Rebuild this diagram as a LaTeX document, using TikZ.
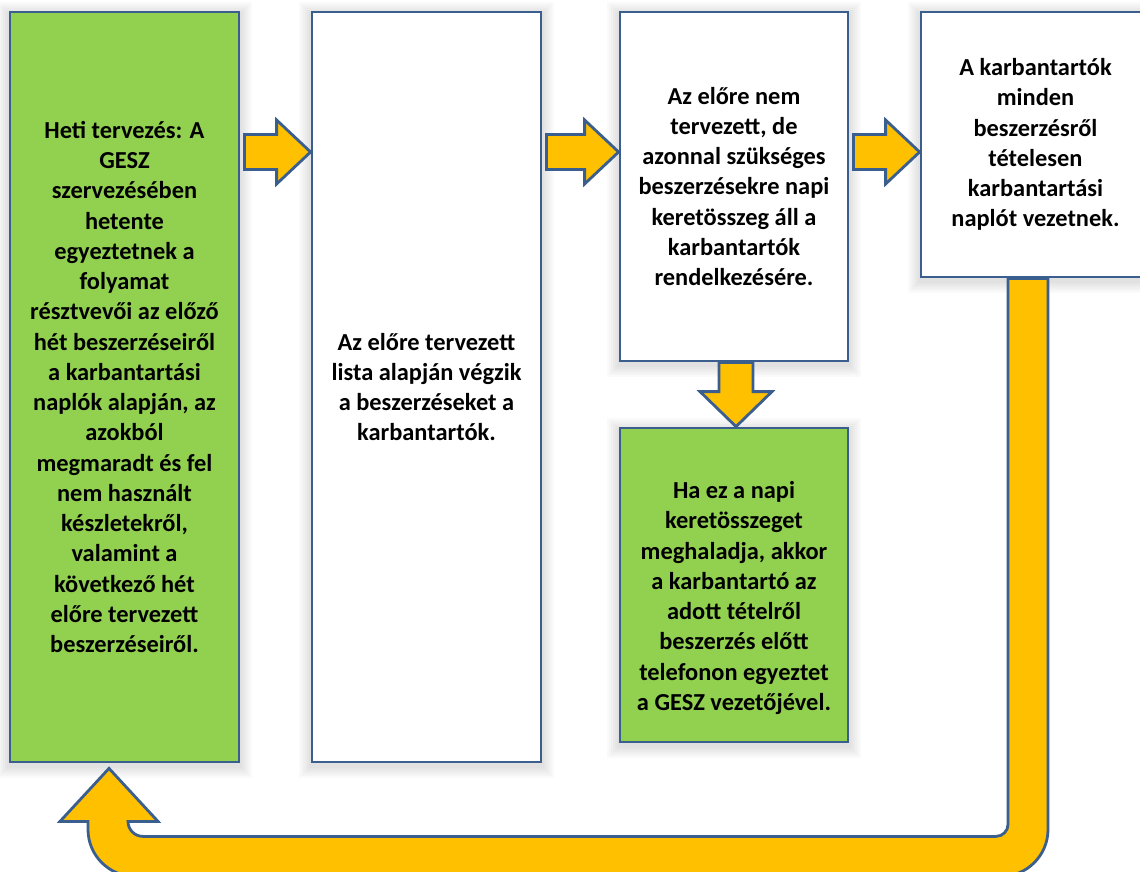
\documentclass[tikz,border=0pt]{standalone}
\usepackage{fontspec}
\setmainfont{Carlito}
\usetikzlibrary{calc,backgrounds}
\definecolor{boxgreen}{HTML}{92D050}
\definecolor{arroworange}{HTML}{FFC000}
\definecolor{edgeblue}{HTML}{3A5F8F}
\tikzset{
  txt/.style={align=center, inner sep=0pt, text=black, font=\fontsize{24.4}{30.25}\selectfont\bfseries},
  box/.style={txt, draw=edgeblue, line width=2.8pt, rectangle},
  greenbox/.style={box, fill=boxgreen},
  whitebox/.style={box, fill=white},
  blockarrow/.style={draw=edgeblue, line width=2.8pt, fill=arroworange, line join=miter},
}
\newcommand{\hblockarrow}[2]{%
  \draw[blockarrow] ($(#1)+(4,-17.5)$) -- ($(#2)+(-34,-17.5)$) -- ($(#2)+(-34,-32)$) -- (#2)
    -- ($(#2)+(-34,32)$) -- ($(#2)+(-34,17.5)$) -- ($(#1)+(4,17.5)$) -- cycle;}
\begin{document}
\begin{tikzpicture}[x=1pt,y=-1pt]
\useasboundingbox (0,0) rectangle (1140,872);
\clip (0,0) rectangle (1140,872);

\node[greenbox, minimum width=229pt, minimum height=750pt] (b1) at (124.5,387)
  {Heti tervezés: A\\GESZ\\szervezésében\\hetente\\egyeztetnek a\\folyamat\\résztvevői az előző\\hét beszerzéseiről\\a karbantartási\\naplók alapján, az\\azokból\\megmaradt és fel\\nem használt\\készletekről,\\valamint a\\következő hét\\előre tervezett\\beszerzéseiről.};
\node[whitebox, minimum width=229pt, minimum height=750pt] (b2) at (426.5,387)
  {Az előre tervezett\\lista alapján végzik\\a beszerzéseket a\\karbantartók.};
\node[whitebox, minimum width=228pt, minimum height=349pt] (b3) at (734,186.5)
  {Az előre nem\\tervezett, de\\azonnal szükséges\\beszerzésekre napi\\keretösszeg áll a\\karbantartók\\rendelkezésére.};
\node[whitebox, minimum width=229pt, minimum height=265pt] (b4) at (1035.5,144.5)
  {A karbantartók\\minden\\beszerzésről\\tételesen\\karbantartási\\naplót vezetnek.};
\node[greenbox, minimum width=228pt, minimum height=314pt] (b5) at (734,585) {};
\node[txt] (t5) at (734,598)
  {Ha ez a napi\\keretösszeget\\meghaladja, akkor\\a karbantartó az\\adott tételről\\beszerzés előtt\\telefonon egyeztet\\a GESZ vezetőjével.};

\begin{pgfonlayer}{background}
  \foreach \n in {b1,b2,b3,b4,b5}{
    \foreach \d in {2,4,6,8,10,12}{
      \fill[black, opacity=0.018] ($(\n.north west)+(-\d,-\d+3)$) rectangle ($(\n.south east)+(\d,\d+3)$);
    }
  }
\end{pgfonlayer}

% horizontal block arrows
\coordinate (a1s) at (b1.east |- 0,152);
\coordinate (a1e) at (b2.west |- 0,152);
\coordinate (a2s) at (b2.east |- 0,152);
\coordinate (a2e) at (b3.west |- 0,152);
\coordinate (a3s) at (b3.east |- 0,152);
\coordinate (a3e) at (b4.west |- 0,152);
\hblockarrow{a1s}{a1e}
\hblockarrow{a2s}{a2e}
\hblockarrow{a3s}{a3e}

% down block arrow
\coordinate (ds) at ($(b3.south)+(2,0)$);
\coordinate (de) at ($(b5.north)+(2,0)$);
\draw[blockarrow] ($(ds)+(-17,0)$) -- ($(ds)+(17,0)$) -- ($(de)+(17,-35)$) -- ($(de)+(36,-35)$) -- (de)
  -- ($(de)+(-36,-35)$) -- ($(de)+(-17,-35)$) -- cycle;

% U-turn block arrow
\coordinate (u1) at ($(b4.south)+(-7.5,0)$);
\coordinate (u2) at ($(b1.south)+(-15.5,5)$);
\draw[blockarrow]
  ($(u1)+(-20,0)$) -- ($(u1)+(20,0)$) -- ($(u1)+(20,551)$)
  .. controls ($(u1)+(20,577)$) and ($(u1)+(-1,598)$) .. ($(u1)+(-27,598)$)
  -- ($(u2)+(26,108)$)
  .. controls ($(u2)+(0,108)$) and ($(u2)+(-21,87)$) .. ($(u2)+(-21,61)$)
  -- ($(u2)+(-21,53)$) -- ($(u2)+(-49,53)$) -- (u2) -- ($(u2)+(49,53)$) -- ($(u2)+(19,53)$)
  .. controls ($(u2)+(19,61.3)$) and ($(u2)+(25.7,68)$) .. ($(u2)+(34,68)$)
  -- ($(u1)+(-32,558)$)
  .. controls ($(u1)+(-25.4,558)$) and ($(u1)+(-20,552.6)$) .. ($(u1)+(-20,546)$)
  -- cycle;
\end{tikzpicture}
\end{document}
